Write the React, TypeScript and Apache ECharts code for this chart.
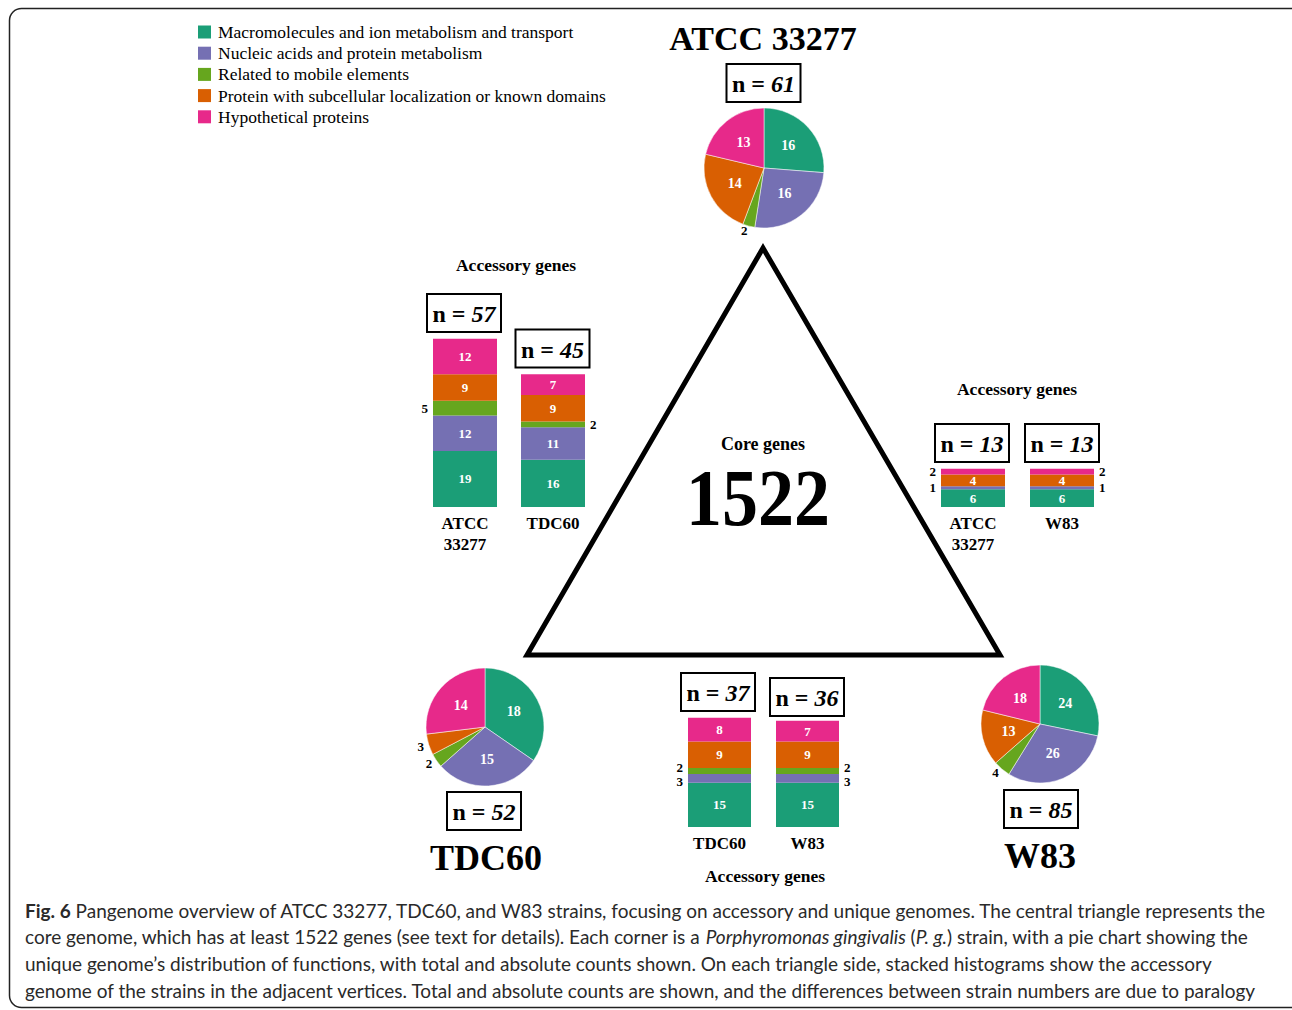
import React, { useEffect, useRef } from "react";
import * as echarts from "echarts";

// ---------- data ----------
const categories = [
  "Macromolecules and ion metabolism and transport",
  "Nucleic acids and protein metabolism",
  "Related to mobile elements",
  "Protein with subcellular localization or known domains",
  "Hypothetical proteins",
];
const palette = ["#1b9e77", "#7570b3", "#66a61e", "#d95f02", "#e7298a"];

const pieStrains = ["ATCC 33277", "TDC60", "W83"];
const pieTotals = [61, 52, 85];
const pieAtcc = [16, 16, 2, 14, 13];
const pieTdc60 = [18, 15, 2, 3, 14];
const pieW83 = [24, 26, 4, 13, 18];
const pieValues = [pieAtcc, pieTdc60, pieW83];

const barStrains = ["ATCC\n33277", "TDC60", "ATCC\n33277", "W83", "TDC60", "W83"];
const barTotals = [57, 45, 13, 13, 37, 36];
const accAtccWithTdc = [19, 12, 5, 9, 12];
const accTdcWithAtcc = [16, 11, 2, 9, 7];
const accAtccWithW83 = [6, 1, 0, 4, 2];
const accW83WithAtcc = [6, 1, 0, 4, 2];
const accTdcWithW83 = [15, 3, 2, 9, 8];
const accW83WithTdc = [15, 3, 2, 9, 7];
const barValues = [accAtccWithTdc, accTdcWithAtcc, accAtccWithW83, accW83WithAtcc, accTdcWithW83, accW83WithTdc];

const coreGenes = 1522;
const sideTitle = "Accessory genes";
const coreTitle = "Core genes";
const captionLines = [
  "{b|Fig. 6} Pangenome overview of ATCC 33277, TDC60, and W83 strains, focusing on accessory and unique genomes. The central triangle represents the",
  "core genome, which has at least 1522 genes (see text for details). Each corner is a {i|Porphyromonas gingivalis} ({i|P. g.}) strain, with a pie chart showing the",
  "unique genome\u2019s distribution of functions, with total and absolute counts shown. On each triangle side, stacked histograms show the accessory",
  "genome of the strains in the adjacent vertices. Total and absolute counts are shown, and the differences between strain numbers are due to paralogy",
];

// ---------- layout ----------
const SERIF = "'Liberation Serif', 'Times New Roman', serif";
const SANS = "Lato, 'Open Sans', sans-serif";
const PX_PER_UNIT = 2.95;
const Y_MAX = 60;
const barLayout = [
  { left: 433, bottom: 507, width: 64, side: "left", box: [464, 313] },
  { left: 521, bottom: 507, width: 64, side: "right", box: [552.5, 348.5] },
  { left: 941, bottom: 507, width: 64, side: "left", box: [972, 443] },
  { left: 1030, bottom: 507, width: 64, side: "right", box: [1062, 443] },
  { left: 688, bottom: 827, width: 63, side: "left", box: [718, 692] },
  { left: 776, bottom: 827, width: 63, side: "right", box: [807, 697] },
];
const pieLayout = [
  { center: [764, 168], r: 60, box: [763.5, 83], title: [763, 38], titleSize: 34 },
  { center: [485, 727], r: 59, box: [484, 811], title: [486, 858], titleSize: 36 },
  { center: [1040, 724], r: 59, box: [1041, 809], title: [1040, 856], titleSize: 36 },
];

function nBox(cx: number, cy: number, n: number) {
  return [
    {
      type: "rect",
      shape: { x: cx - 37, y: cy - 19, width: 74, height: 38 },
      style: { fill: "#fff", stroke: "#000", lineWidth: 2 },
    },
    {
      type: "text",
      x: cx,
      y: cy + 1,
      style: {
        text: `{a|n = }{b|${n}}`,
        align: "center",
        verticalAlign: "middle",
        rich: {
          a: { fontFamily: SERIF, fontWeight: "bold", fontSize: 24, fill: "#000" },
          b: { fontFamily: SERIF, fontWeight: "bold", fontStyle: "italic", fontSize: 24, fill: "#000" },
        },
      },
    },
  ];
}

function boldText(x: number, y: number, text: string, size: number) {
  return {
    type: "text",
    x,
    y,
    style: {
      text,
      align: "center",
      verticalAlign: "middle",
      fontFamily: SERIF,
      fontWeight: "bold",
      fontSize: size,
      fill: "#000",
    },
  };
}

function isOutside(vals: number[], ci: number) {
  const v = vals[ci];
  return v > 0 && (v <= 3 || ci === 2);
}

export default function App() {
  const ref = useRef<HTMLDivElement>(null);
  useEffect(() => {
    if (!ref.current) return;
    const chart = echarts.init(ref.current, null, { renderer: "svg" });

    const H = Y_MAX * PX_PER_UNIT;
    const grid: any[] = [];
    const xAxis: any[] = [];
    const yAxis: any[] = [];
    const series: any[] = [];

    barLayout.forEach((b, gi) => {
      grid.push({
        left: b.left,
        top: b.bottom - H,
        width: b.width,
        height: H,
        outerBoundsMode: "none",
        containLabel: false,
      });
      xAxis.push({
        gridIndex: gi,
        type: "category",
        data: [barStrains[gi]],
        axisLine: { show: false },
        axisTick: { show: false },
        splitLine: { show: false },
        axisLabel: {
          show: true,
          margin: 6,
          color: "#000",
          fontFamily: SERIF,
          fontWeight: "bold",
          fontSize: 17,
          lineHeight: 21,
        },
      });
      yAxis.push({
        gridIndex: gi,
        type: "value",
        min: 0,
        max: Y_MAX,
        show: false,
        splitLine: { show: false },
      });
      const vals = barValues[gi];
      categories.forEach((cat, ci) => {
        const v = vals[ci];
        const outside = isOutside(vals, ci);
        // spread adjacent outside labels vertically so they don't collide
        let dy = 0;
        if (outside) {
          if (ci > 0 && isOutside(vals, ci - 1) && vals[ci - 1] > 0) dy = -3;
          else if (ci < 4 && isOutside(vals, ci + 1) && vals[ci + 1] > 0 && ci + 1 !== 4) dy = 3.5;
        }
        series.push({
          type: "bar",
          name: cat,
          xAxisIndex: gi,
          yAxisIndex: gi,
          stack: "s" + gi,
          barWidth: b.width,
          itemStyle: { color: palette[ci] },
          data: [
            {
              value: v,
              label: {
                show: v > 0,
                position: outside ? b.side : "inside",
                distance: 5,
                offset: [0, dy],
                color: outside ? "#000" : "#fff",
                fontFamily: SERIF,
                fontWeight: "bold",
                fontSize: 13,
              },
            },
          ],
        });
      });
    });

    pieLayout.forEach((p, pi) => {
      series.push({
        type: "pie",
        name: pieStrains[pi],
        center: p.center,
        radius: p.r,
        startAngle: 90,
        clockwise: true,
        itemStyle: { borderColor: "#fff", borderWidth: 0.5 },
        data: categories.map((cat, ci) => {
          const v = pieValues[pi][ci];
          const outside = v <= 4;
          return {
            name: cat,
            value: v,
            itemStyle: { color: palette[ci] },
            label: {
              show: true,
              formatter: "{c}",
              position: outside ? "outside" : "inside",
              color: outside ? "#000" : "#fff",
              fontFamily: SERIF,
              fontWeight: "bold",
              fontSize: outside ? 13 : 14,
              distanceToLabelLine: 0,
            },
            labelLine: { show: false, length: 5, length2: 0 },
          };
        }),
      });
    });

    const graphic: any[] = [
      {
        type: "rect",
        shape: { x: 9.5, y: 8.5, width: 1295, height: 999, r: 12 },
        style: { fill: "none", stroke: "#222", lineWidth: 1.5 },
        silent: true,
      },
      {
        type: "polygon",
        shape: { points: [[763, 248], [527, 655], [1000, 655]] },
        style: { fill: "none", stroke: "#000", lineWidth: 5, lineJoin: "miter" },
      },
      boldText(763, 444, coreTitle, 18),
      {
        type: "text",
        x: 758,
        y: 498,
        scaleY: 1.12,
        style: {
          text: String(coreGenes),
          align: "center",
          verticalAlign: "middle",
          fontFamily: SERIF,
          fontWeight: "bold",
          fontSize: 72,
          fill: "#000",
        },
      },
      boldText(516, 265, sideTitle, 17.5),
      boldText(1017, 389, sideTitle, 17.5),
      boldText(765, 876, sideTitle, 17.5),
    ];
    pieLayout.forEach((p, pi) => {
      graphic.push(...nBox(p.box[0], p.box[1], pieTotals[pi]));
      graphic.push(boldText(p.title[0], p.title[1], pieStrains[pi], p.titleSize));
    });
    barLayout.forEach((b, gi) => {
      graphic.push(...nBox(b.box[0], b.box[1], barTotals[gi]));
    });
    captionLines.forEach((line, li) => {
      graphic.push({
        type: "text",
        x: 25,
        y: 910 + li * 26.7,
        style: {
          text: line,
          align: "left",
          verticalAlign: "middle",
          fontFamily: SANS,
          fontSize: 19,
          fill: "#2a2a2a",
          rich: {
            b: { fontFamily: SANS, fontSize: 19, fontWeight: "bold", fill: "#2a2a2a" },
            i: { fontFamily: SANS, fontSize: 19, fontStyle: "italic", fill: "#2a2a2a" },
          },
        },
      });
    });

    chart.setOption({
      animation: false,
      backgroundColor: "#fff",
      legend: {
        show: true,
        data: categories,
        orient: "vertical",
        left: 198,
        top: 23,
        padding: 0,
        itemWidth: 13,
        itemHeight: 13,
        itemGap: 3.2,
        icon: "rect",
        selectedMode: false,
        textStyle: { fontFamily: SERIF, fontSize: 17.5, color: "#000", lineHeight: 16, padding: [0, 0, 0, 2] },
      },
      grid,
      xAxis,
      yAxis,
      series,
      graphic,
    });

    return () => chart.dispose();
  }, []);

  return (
    <div
      ref={ref}
      style={{ position: "absolute", left: 0, top: 0, width: 1292, height: 1010 }}
    />
  );
}
